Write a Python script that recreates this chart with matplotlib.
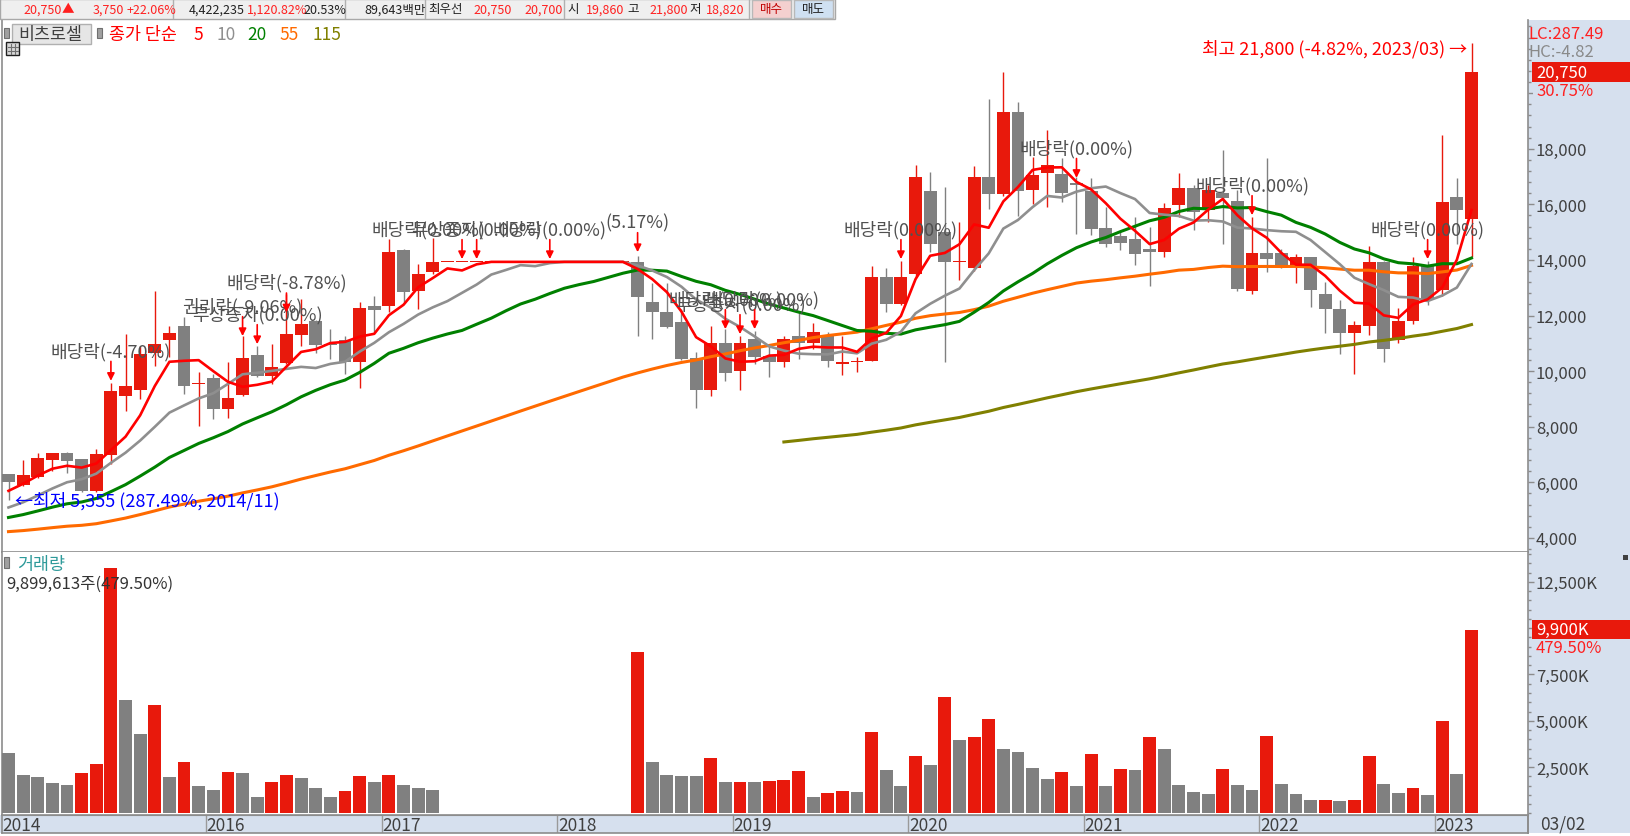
import numpy as np
import pandas as pd
import matplotlib
matplotlib.use("Agg")
import matplotlib.pyplot as plt
from matplotlib.patches import Rectangle
from matplotlib.ticker import MultipleLocator, FixedLocator

plt.rcParams['font.family'] = ['Noto Sans CJK KR', 'DejaVu Sans']

# ---------------- data ----------------
stock_name = "비츠로셀"
months = pd.date_range("2014-11-01", periods=101, freq="MS")

open_ = [6290, 5900, 6200, 6810, 7070, 6830, 5690, 6980, 9110, 9320,
         10650, 11130, 11610, 9540, 9770, 8630, 9150, 10580, 9830, 10290,
         11310, 11810, 10980, 11130, 10340, 12350, 12350, 14350, 12890, 13550,
         13930, 13930, 13930, 13930, 13930, 13930, 13930, 13930, 13930, 13930,
         13930, 13930, 13930, 13910, 12470, 12110, 11750, 10470, 9320, 11020,
         10010, 11150, 10550, 10310, 11250, 11000, 11300, 10260, 10340, 10370,
         13400, 12410, 13490, 16470, 14990, 13930, 13700, 16970, 16370, 19310,
         16530, 17140, 17080, 16760, 16490, 15150, 14860, 14740, 14380, 14280,
         15980, 16590, 15800, 16410, 16130, 12880, 14250, 14250, 13820, 14100,
         12780, 12230, 11380, 11630, 13940, 11120, 11790, 13820, 12920, 16250,
         15460]
high = [6300, 6810, 7070, 7060, 7080, 6850, 7190, 9590, 11330, 10900,
        12890, 11630, 11930, 9950, 9900, 10310, 11260, 10910, 10970, 12770,
        12590, 11850, 11510, 11270, 12470, 12690, 14750, 14400, 13850, 14780,
        13930, 13930, 13930, 13930, 13930, 13930, 13930, 13930, 13930, 13930,
        13930, 13930, 13930, 14150, 13170, 13170, 12230, 10700, 11630, 11530,
        11250, 11450, 10900, 11270, 12150, 11720, 11390, 11250, 10490, 13790,
        13700, 13950, 17410, 17150, 16630, 15350, 17390, 19790, 20750, 19670,
        17700, 18660, 17680, 17000, 16960, 15920, 15000, 15560, 15190, 16040,
        17140, 16700, 16700, 17950, 16500, 15550, 17680, 14400, 14220, 14100,
        13190, 12570, 11790, 14500, 13950, 12270, 14100, 13950, 18480, 16930,
        21800]
low = [5355, 5880, 6150, 6410, 6350, 5650, 5650, 6650, 8570, 8990,
       10170, 10500, 9170, 8030, 8270, 8330, 9100, 9800, 9530, 10250,
       10910, 10650, 10430, 9890, 9410, 11390, 12110, 12500, 12250, 13500,
       13930, 13930, 13930, 13930, 13930, 13930, 13930, 13930, 13930, 13930,
       13930, 13930, 13930, 11270, 11150, 11550, 10400, 8660, 9090, 9650,
       9320, 10250, 9800, 10130, 10430, 10790, 10130, 9860, 9950, 10350,
       12110, 12380, 13400, 14300, 10310, 13290, 13600, 15830, 16300, 15590,
       16010, 15920, 16100, 14950, 14890, 14460, 14340, 13820, 13060, 14100,
       15560, 15070, 15370, 14580, 12900, 12760, 13570, 13700, 13160, 12310,
       11360, 10630, 9900, 11300, 10320, 11020, 11700, 12390, 12700, 14580,
       14100]
close = [6020, 6270, 6870, 7040, 6770, 5690, 7010, 9290, 9450, 10610,
         10960, 11370, 9470, 9560, 8630, 9050, 10470, 9830, 10130, 11330,
         11690, 10950, 10950, 10340, 12270, 12200, 14290, 12830, 13490, 13930,
         13930, 13930, 13930, 13930, 13930, 13930, 13930, 13930, 13930, 13930,
         13930, 13930, 13930, 12650, 12110, 11590, 10430, 9320, 11020, 9920,
         11000, 10510, 10340, 11150, 11000, 11390, 10370, 10340, 10370, 13400,
         12410, 13400, 16970, 14570, 13910, 13970, 16970, 16370, 19310, 16490,
         17050, 17410, 16400, 16690, 15130, 14580, 14620, 14220, 14300, 15880,
         16590, 15740, 16530, 16230, 12940, 14250, 14040, 13820, 14100, 12920,
         12250, 11380, 11650, 13940, 10810, 11800, 13790, 12570, 16070, 15800,
         20750]
# monthly volume, thousand shares
volume_k = [3263, 2072, 1964, 1640, 1531, 2181, 2668, 13274, 6131, 4291,
            5860, 1964, 2776, 1477, 1261, 2235, 2181, 882, 1694, 2072,
            1910, 1369, 882, 1207, 2018, 1694, 2072, 1531, 1369, 1261,
            0, 0, 0, 0, 0, 0, 0, 0, 0, 0,
            0, 0, 0, 8734, 2773, 2098, 2040, 2000, 3000, 1700,
            1720, 1700, 1740, 1800, 2270, 900, 1085, 1200, 1150, 4400,
            2320, 1480, 3110, 2600, 6260, 3960, 4120, 5080, 3450, 3340,
            2440, 1870, 2210, 1480, 3220, 1480, 2380, 2350, 4120, 3450,
            1540, 1140, 1030, 2380, 1540, 1250, 4180, 1590, 1030, 700,
            720, 650, 700, 3110, 1590, 1090, 1370, 970, 4970, 2100,
            9899.613]
# monthly closes before Nov 2014 (not shown; estimated so the moving averages match)
prior_close = [4600, 4500, 4400, 4300, 4250, 4300, 4230,
               4200, 4100, 4000, 3950, 3900, 3850, 3800, 3750, 3700, 3650,
               3700, 3750, 3800, 3850, 3900, 3950, 4000, 3950, 3900, 3850,
               3900, 3950, 4000, 4050, 4000, 3950, 3900, 3950, 4000, 4050,
               4100, 4150, 4100, 4050, 4000,
               4200, 4250, 4300, 4350, 4400, 4450, 4400, 4400, 4450, 4540,
               4400, 4450, 4500, 4530, 4600,
               5000, 5400, 5800, 6240]
ma_periods = [5, 10, 20, 55, 115]

event_bars = [7, 16, 17, 19, 31, 32, 37, 43, 49, 50, 51, 61, 73, 85, 97]
event_labels = ['배당락(-4.70%)', '권리락(-9.06%)', '무상증자(0.00%)', '배당락(-8.78%)',
                '배당락(0.00%)', '무상증자(0.00%)', '배당락(0.00%)', '(5.17%)',
                '배당락(0.00%)', '무상증자(0.00%)', '배당락(0.00%)', '배당락(0.00%)',
                '배당락(0.00%)', '배당락(0.00%)', '배당락(0.00%)']
event_arrow_price = [9650, 11260, 10970, 12110, 14030, 14030, 14030, 14280,
                     11510, 11330, 11510, 14030, 16950, 15610, 14030]

price_ticks = [4000, 6000, 8000, 10000, 12000, 14000, 16000, 18000, 20000, 22000]
vol_ticks_k = [2500, 5000, 7500, 10000, 12500]

# ---------------- style ----------------
W, H = 1630, 837
RED = '#E8190C'
GRAY = '#808080'
MA_COLORS = {5: '#FF0000', 10: '#8F8F8F', 20: '#008000', 55: '#FF6A00', 115: '#808000'}
MA_LW = {5: 1.9, 10: 1.9, 20: 2.2, 55: 2.2, 115: 2.2}
PANEL_BG = '#D6E0EE'
AXIS_LINE = '#8C8C8C'
TXT = '#404040'
FS = 12
EV_FS = 13
# label x-shift (points) for a few crowded event labels
event_label_dx = {31: -24, 51: 6}

fig = plt.figure(figsize=(W / 100, H / 100), dpi=100)
fig.patch.set_facecolor('white')


def fx(x):
    return x / W


def fy(y):
    return 1 - y / H


def ftext(x, y, s, **kw):
    kw.setdefault('va', 'center')
    fig.text(fx(x), fy(y), s, **kw)


def frect(x0, y0, x1, y1, **kw):
    fig.patches.append(Rectangle((fx(x0), fy(y1)), fx(x1) - fx(x0), fy(y0) - fy(y1),
                                 transform=fig.transFigure, **kw))


# right panel & bottom strip backgrounds (behind axes)
frect(1528, 21, 1630, 837, facecolor=PANEL_BG, edgecolor='none', zorder=-5)
frect(0, 815.5, 1630, 834, facecolor=PANEL_BG, edgecolor='none', zorder=-5)
frect(0, 834, 1630, 837, facecolor='white', edgecolor='none', zorder=-4)

L, R = 2, 1528
ax = fig.add_axes([fx(L), fy(552.5), fx(R) - fx(L), fy(21) - fy(552.5)])
axv = fig.add_axes([fx(L), fy(815.5), fx(R) - fx(L), fy(552.5) - fy(815.5)], sharex=ax)
axd = fig.add_axes([fx(L), fy(834), fx(R) - fx(L), fy(815.5) - fy(834)], sharex=ax)

n = len(close)
x = np.arange(n)
o = np.array(open_, float)
h = np.array(high, float)
lo = np.array(low, float)
c = np.array(close, float)
v = np.array(volume_k, float)

# ---------------- price candles ----------------
up = c >= o
ccol = np.where(up, RED, GRAY)
ax.vlines(x, lo, h, colors=ccol, lw=1.0, zorder=3)
body_bottom = np.minimum(o, c)
body_h = np.maximum(np.abs(c - o), 40)
ax.bar(x, body_h, bottom=body_bottom, width=0.88, color=ccol, linewidth=0, zorder=4)

# moving averages
full_close = pd.Series(list(prior_close) + list(close), dtype=float)
npri = len(prior_close)
for p in ma_periods:
    m = full_close.rolling(p).mean().to_numpy()[npri:]
    ax.plot(x, m, color=MA_COLORS[p], lw=MA_LW[p], zorder=5 + (115 - p) / 200,
            solid_joinstyle='round')

# events
for b, lab, ap in zip(event_bars, event_labels, event_arrow_price):
    ax.annotate('', xy=(b, ap), xytext=(0, 14), textcoords='offset points',
                arrowprops=dict(arrowstyle='-|>', color='#FF0000', lw=1.2,
                                mutation_scale=11, shrinkA=0, shrinkB=0), zorder=7)
    ax.annotate(lab, xy=(b, ap), xytext=(event_label_dx.get(b, 0), 21.5),
                textcoords='offset points', ha='center', va='center',
                fontsize=EV_FS, color='#505050', zorder=7)

# lowest / highest annotations
imin = int(np.argmin(lo))
imax = int(np.argmax(h))
ax.annotate(f'←최저 {lo[imin]:,.0f} (287.49%, {months[imin]:%Y/%m})', xy=(imin, lo[imin]),
            xytext=(4.5, 0), textcoords='offset points', ha='left', va='center',
            fontsize=EV_FS, color='#0000FF', zorder=8)
ax.annotate(f'최고 {h[imax]:,.0f} (-4.82%, {months[imax]:%Y/%m}) →', xy=(imax, h[imax]),
            xytext=(-3.5, -3.5), textcoords='offset points', ha='right', va='center',
            fontsize=EV_FS, color='#FF0000', zorder=8)

# ---------------- volume ----------------
vprev = np.concatenate([[np.inf], v[:-1]])
vcol = np.where(v > vprev, RED, GRAY)
axv.bar(x, v, width=0.88, color=vcol, linewidth=0, zorder=3)

# ---------------- axes styling ----------------
ax.set_xlim((L - 8.5) / 14.63, (R - 8.5) / 14.63)
ax.set_ylim(3510, 22632)
axv.set_ylim(-60, 14140)
axd.set_ylim(0, 1)

for a in (ax, axv, axd):
    a.spines['top'].set_visible(False)
    for s in ('left', 'right', 'bottom'):
        a.spines[s].set_color(AXIS_LINE)
        a.spines[s].set_linewidth(1.2)
    a.tick_params(axis='x', which='both', bottom=False, top=False, labelbottom=False)
ax.set_facecolor('white')
axv.set_facecolor('white')
axd.set_facecolor(PANEL_BG)
axd.set_yticks([])
axd.spines['top'].set_visible(True)
axd.spines['top'].set_color(AXIS_LINE)

ax.yaxis.tick_right()
ax.yaxis.set_major_locator(FixedLocator(price_ticks))
ax.set_yticklabels([f'{t:,}' if t <= 18000 else '' for t in price_ticks])
ax.yaxis.set_minor_locator(MultipleLocator(400))
axv.yaxis.tick_right()
axv.yaxis.set_major_locator(FixedLocator(vol_ticks_k))
axv.set_yticklabels([f'{t:,}K' if t != 10000 else '' for t in vol_ticks_k])
axv.yaxis.set_minor_locator(MultipleLocator(500))
for a in (ax, axv):
    a.tick_params(axis='y', which='major', direction='out', length=4.2, width=1,
                  color=AXIS_LINE, labelsize=FS, labelcolor=TXT, pad=1.5)
    a.tick_params(axis='y', which='minor', direction='out', length=2.5, width=1,
                  color=AXIS_LINE)

# date strip
years_shown = {}
for i, d in enumerate(months):
    if i == 0:
        years_shown[i] = d.year
    elif d.month == 1 and d.year != 2015:
        years_shown[i] = d.year
for i, yv in years_shown.items():
    if i > 0:
        axd.axvline(i - 0.5, color='#9A9A9A', lw=1)
    axd.text(i - 0.45, 0.45, str(yv), ha='left', va='center', fontsize=FS + 0.5, color=TXT)

# ---------------- top info bar ----------------
frect(0, 0, 835, 20, facecolor='#EFEFEF', edgecolor='#A8A8A8', lw=1, zorder=1)
BLK = '#202020'
TRED = '#FF2020'
TOP_FS = 9
top_items = [(23, '20,750', TRED), (62, '▲', TRED), (93, '3,750', TRED), (127, '+22.06%', TRED),
             (189, '4,422,235', BLK), (247, '1,120.82%', TRED), (303, '20.53%', BLK),
             (364, '89,643백만', BLK), (428, '최우선', BLK), (473, '20,750', TRED),
             (524, '20,700', TRED), (567, '시', BLK), (586, '19,860', TRED), (627, '고', BLK),
             (649, '21,800', TRED), (689, '저', BLK), (706, '18,820', TRED)]
for xx, s, col in top_items:
    ftext(xx, 10, s, fontsize=TOP_FS, color=col, ha='left', zorder=3)
for xx in (173, 345, 425, 564, 749):
    fig.add_artist(plt.Line2D([fx(xx), fx(xx)], [fy(1), fy(19)], color='#B0B0B0', lw=1))
frect(752, 1, 791, 19, facecolor='#F4D0CF', edgecolor='#B8B8B8', lw=1, zorder=2)
ftext(771.5, 10, '매수', fontsize=TOP_FS, color='#C00000', ha='center', zorder=3)
frect(794, 1, 833, 19, facecolor='#CFE0F2', edgecolor='#B8B8B8', lw=1, zorder=2)
ftext(813.5, 10, '매도', fontsize=TOP_FS, color='#202020', ha='center', zorder=3)

# ---------------- legend row ----------------
frect(3.5, 29, 8.5, 39, facecolor='#A0A0A0', edgecolor='#707070', lw=0.8, zorder=6)
frect(12, 25, 90.5, 45, facecolor='#E6E6E6', edgecolor='#B0B0B0', lw=1, zorder=6)
ftext(18, 35, stock_name, fontsize=FS + 0.5, color=TXT, ha='left', zorder=7)
frect(96.5, 29, 101.5, 39, facecolor='#A0A0A0', edgecolor='#707070', lw=0.8, zorder=6)
ftext(109, 35, '종가 단순', fontsize=FS + 0.5, color='#FF0000', ha='left', zorder=7)
for xx, p in zip((193, 216, 247, 279, 312), ma_periods):
    ftext(xx, 35, str(p), fontsize=FS + 0.5, color=MA_COLORS[p], ha='left', zorder=7)
# small grid icon
frect(6, 43, 19, 56, facecolor='#D8D8D8', edgecolor='#202020', lw=1, zorder=6)
for yy in (47.5, 51.5):
    fig.add_artist(plt.Line2D([fx(7.5), fx(17.5)], [fy(yy), fy(yy)], color='#707070', lw=0.8, zorder=7))
for xx in (10.5, 14.5):
    fig.add_artist(plt.Line2D([fx(xx), fx(xx)], [fy(44.5), fy(54.5)], color='#707070', lw=0.8, zorder=7))

# volume legend
frect(4, 558, 8.5, 569, facecolor='#A0A0A0', edgecolor='#707070', lw=0.8, zorder=6)
ftext(17, 565, '거래량', fontsize=FS + 0.5, color='#2E9A9A', ha='left', zorder=7)
ftext(6, 584.5, f'{v[-1] * 1000:,.0f}주(479.50%)', fontsize=FS, color='#333333', ha='left', zorder=7)

# ---------------- right panel labels ----------------
ftext(1528, 34.5, 'LC:287.49', fontsize=FS, color='#FF2020', ha='left', zorder=7)
ftext(1528, 52.5, 'HC:-4.82', fontsize=FS, color='#8A8A8A', ha='left', zorder=7)
ypx_last = 538.7 - (c[-1] - 4000) * 0.027785
frect(1531.5, ypx_last - 10, 1630, ypx_last + 9.5, facecolor=RED, edgecolor='none', zorder=6)
ftext(1536, ypx_last, f'{c[-1]:,.0f}', fontsize=FS, color='white', ha='left', zorder=7)
frect(1533, ypx_last + 11, 1630, ypx_last + 27, facecolor=PANEL_BG, edgecolor='none', zorder=6)
ftext(1536, ypx_last + 18.5, '30.75%', fontsize=FS, color='#FF2020', ha='left', zorder=7)
vy_last = 814.3 - v[-1] * 46.2 / 2500
frect(1531.5, vy_last - 10, 1630, vy_last + 8.5, facecolor=RED, edgecolor='none', zorder=6)
ftext(1536, vy_last - 0.5, f'{round(v[-1]):,}K', fontsize=FS, color='white', ha='left', zorder=7)
ftext(1536, vy_last + 17, '479.50%', fontsize=FS, color='#FF2020', ha='left', zorder=7)
ftext(1540, 825, f'{months[-1]:%m}/02', fontsize=FS + 0.5, color=TXT, ha='left', zorder=7)
fig.add_artist(plt.Line2D([fx(1528), fx(1528)], [fy(815.5), fy(834)], color=AXIS_LINE, lw=1.2))
frect(1623, 556, 1628, 561, facecolor='#404040', edgecolor='none', zorder=7)

fig.savefig('out.png', dpi=100)
